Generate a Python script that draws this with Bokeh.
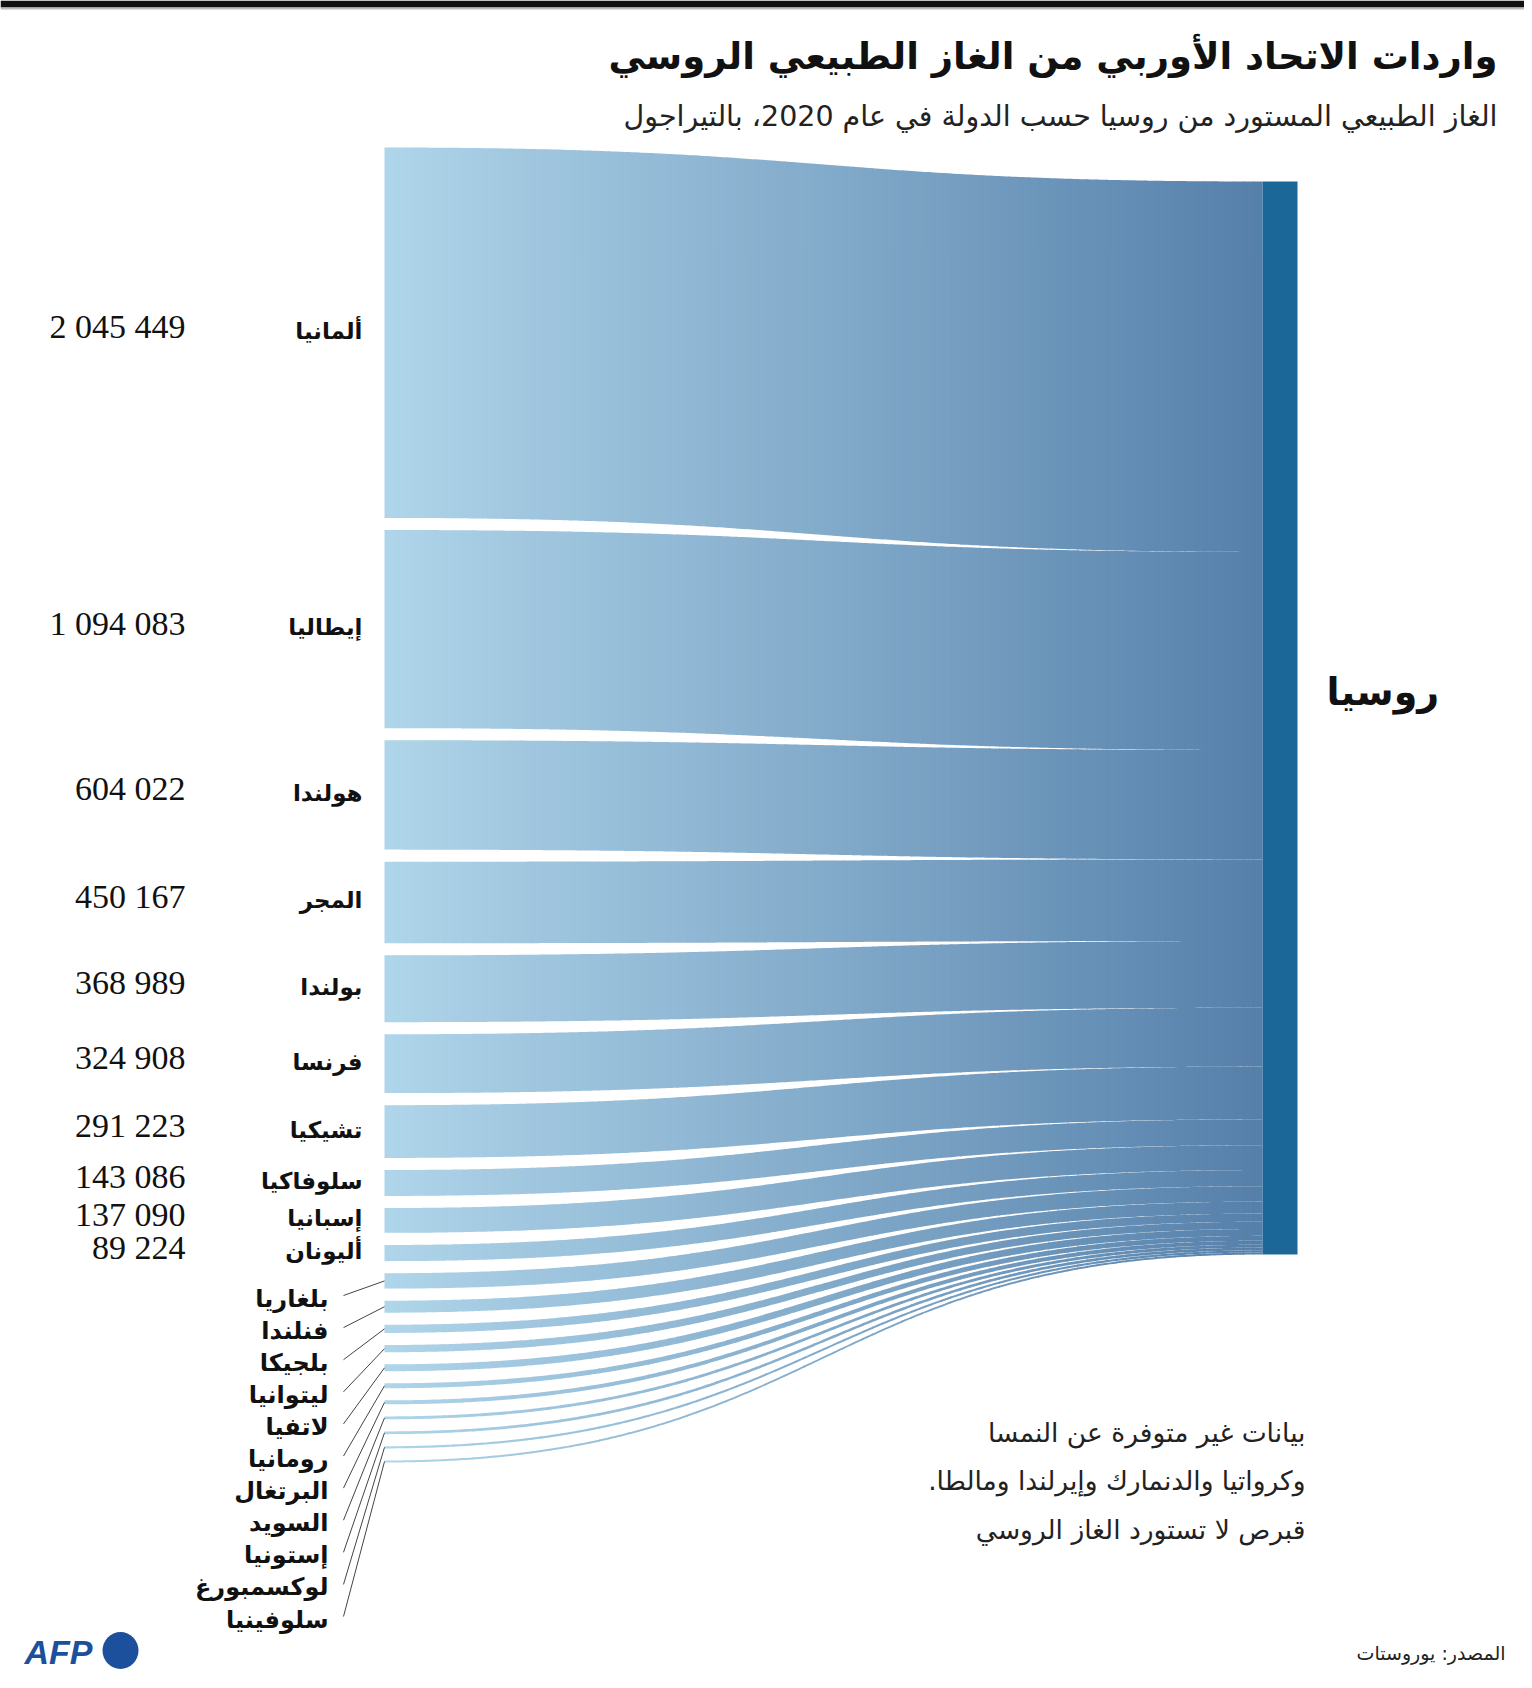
import numpy as np
from bokeh.plotting import figure
from bokeh.models import Range1d, ColumnDataSource
from bokeh.core.properties import value
from bokeh.embed import file_html
from bokeh.resources import INLINE

# ---------------- data ----------------
title = "واردات الاتحاد الأوربي من الغاز الطبيعي الروسي"
subtitle = "الغاز الطبيعي المستورد من روسيا حسب الدولة في عام 2020، بالتيراجول"
source_node = "روسيا"
countries = ["ألمانيا", "إيطاليا", "هولندا", "المجر", "بولندا", "فرنسا", "تشيكيا",
             "سلوفاكيا", "إسبانيا", "أليونان", "بلغاريا", "فنلندا", "بلجيكا",
             "ليتوانيا", "لاتفيا", "رومانيا", "البرتغال", "السويد", "إستونيا",
             "لوكسمبورغ", "سلوفينيا"]
imports_tj = [2045449, 1094083, 604022, 450167, 368989, 324908, 291223,
              143086, 137090, 89224, 85000, 66000, 45000, 40000, 38000,
              27000, 22000, 16000, 15000, 12000, 11000]
value_labels = ["2 045 449", "1 094 083", "604 022", "450 167", "368 989",
                "324 908", "291 223", "143 086", "137 090", "89 224"]
note_lines = ["بيانات غير متوفرة عن النمسا",
              "وكرواتيا والدنمارك وإيرلندا ومالطا.\u200f",
              "قبرص لا تستورد الغاز الروسي"]
source_text = "المصدر: يوروستات"
logo_text = "AFP"

# ---------------- layout constants ----------------
W, H = 1524, 1680
X0, X1 = 384.0, 1262.0          # flow start / end
BAR_W = 35.0
TOP_L, GAP = 147.0, 12.1
TOP_R, BAR_H = 181.0, 1073.0
C_LEFT = np.array([176, 213, 234])
C_RIGHT = np.array([85, 128, 170])
AR_FONT = "DejaVu Sans"

vals = np.array(imports_tj, dtype=float)
k = BAR_H / vals.sum()
h = vals * k
cum = np.concatenate([[0], np.cumsum(h)[:-1]])
left_top = TOP_L + cum + np.arange(len(vals)) * GAP
right_top = TOP_R + cum

# bezier shape (horizontal tangents at both ends)
t = np.linspace(0, 1, 2001)
xt = 1.5 * t - 1.5 * t ** 2 + t ** 3
st = 3 * t ** 2 - 2 * t ** 3


def shape(u):
    return np.interp(u, xt, st)


def hexcol(u):
    c = C_LEFT + (C_RIGHT - C_LEFT) * u
    return "#%02x%02x%02x" % tuple(int(round(v)) for v in c)


p = figure(width=W, height=H, x_range=Range1d(0, W), y_range=Range1d(H, 0),
           output_backend="svg", toolbar_location=None, min_border=0,
           x_axis_location=None, y_axis_location=None)
p.grid.visible = False
p.outline_line_color = None
p.background_fill_color = "white"

# top black rule
p.quad(left=[0], right=[W], top=[0], bottom=[7], fill_color="#111111", line_color=None)
p.quad(left=[0], right=[W], top=[7], bottom=[9], fill_color="#bbbbbb", line_color=None)

# flows as gradient strips
N = 90
edges = np.linspace(0, 1, N + 1)
ovl = 0.8 / (X1 - X0)
xs_all, ys_all, cols = [], [], []
for i in range(len(vals)):
    for j in range(N):
        ua, ub = edges[j], min(edges[j + 1] + ovl, 1.0)
        uu = np.linspace(ua, ub, 4)
        x = X0 + uu * (X1 - X0)
        s = shape(uu)
        ytop = left_top[i] + (right_top[i] - left_top[i]) * s
        ybot = ytop + h[i]
        xs_all.append(list(np.concatenate([x, x[::-1]])))
        ys_all.append(list(np.concatenate([ytop, ybot[::-1]])))
        cols.append(hexcol((edges[j] + edges[j + 1]) / 2))
p.patches(xs="xs", ys="ys", fill_color="c", line_color=None,
          source=ColumnDataSource(dict(xs=xs_all, ys=ys_all, c=cols)))

# Russia bar
p.quad(left=[X1], right=[X1 + BAR_W], top=[TOP_R], bottom=[TOP_R + BAR_H],
       fill_color="#1b6898", line_color=None)
p.text(x=[X1 + BAR_W + 29], y=[TOP_R + BAR_H / 2 - 26], text=[source_node],
       text_font=value(AR_FONT), text_font_style="bold", text_font_size="38px",
       text_align="left", text_baseline="middle", text_color="#111111")

# big country labels
nb = len(value_labels)
centers = left_top + h / 2
p.text(x=[362] * nb, y=list(centers[:nb] - 2), text=countries[:nb],
       text_font=value(AR_FONT), text_font_style="bold", text_font_size="23px",
       text_align="right", text_baseline="middle", text_color="#111111")
p.text(x=[185] * nb, y=list(centers[:nb] - 6), text=value_labels,
       text_font=value("Liberation Serif"), text_font_size="34px",
       text_align="right", text_baseline="middle", text_color="#111111")

# small country labels with leader lines
small = list(range(nb, len(countries)))
lab_y = [1298 + n * 32.1 for n in range(len(small))]
p.segment(x0=[X0] * len(small), y0=list(centers[nb:]), x1=[343] * len(small),
          y1=[y - 3 for y in lab_y], line_color="#444444", line_width=1)
p.text(x=[328] * len(small), y=lab_y, text=countries[nb:],
       text_font=value(AR_FONT), text_font_style="bold", text_font_size="24px",
       text_align="right", text_baseline="middle", text_color="#111111")

# title & subtitle
p.text(x=[1497], y=[56], text=[title], text_font=value(AR_FONT), text_font_style="bold",
       text_font_size="37px", text_align="right", text_baseline="middle", text_color="#111111")
p.text(x=[1497], y=[116], text=[subtitle], text_font=value(AR_FONT),
       text_font_size="28.5px", text_align="right", text_baseline="middle", text_color="#222222")

# note
p.text(x=[1305] * 3, y=[1432, 1480, 1529], text=note_lines, text_font=value(AR_FONT),
       text_font_size="26.5px", text_align="right", text_baseline="middle", text_color="#222222")

# source
p.text(x=[1505], y=[1652], text=[source_text], text_font=value(AR_FONT),
       text_font_size="19px", text_align="right", text_baseline="middle", text_color="#222222")

# AFP logo
p.text(x=[24], y=[1651], text=[logo_text], text_font=value("Liberation Sans"),
       text_font_style="bold italic", text_font_size="34px", text_align="left",
       text_baseline="middle", text_color="#1c4f9c")
p.ellipse(x=[120], y=[1650], width=36, height=37, fill_color="#1c4f9c", line_color=None)

open("out.html", "w").write(file_html(p, INLINE))
